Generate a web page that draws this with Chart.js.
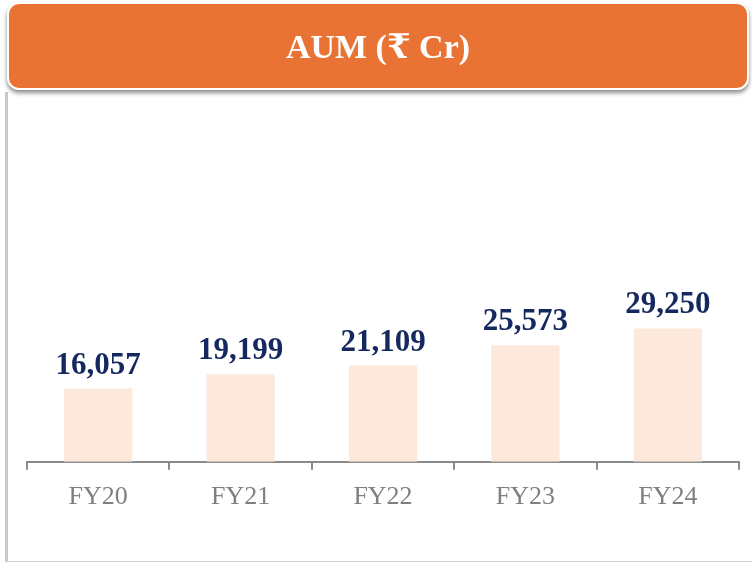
<!DOCTYPE html>
<html>
<head>
<meta charset="utf-8">
<script src="https://cdn.jsdelivr.net/npm/chart.js@4.4.1/dist/chart.umd.min.js"></script>
<style>
  html, body { margin: 0; padding: 0; background: #ffffff; }
  body { width: 752px; height: 563px; position: relative; overflow: hidden; }
  #panel {
    position: absolute; left: 5px; top: 92px; width: 760px; height: 469px;
    border-left: 3px solid #c9c9c9; border-bottom: 1px solid #cfcfcf;
    box-sizing: content-box;
  }
  #header {
    position: absolute; left: 7px; top: 2px; width: 742px; height: 88px;
    box-sizing: border-box;
    background: #e97334; border: 2px solid #ffffff; border-radius: 12px;
    box-shadow: 0 3px 4px rgba(0,0,0,0.45);
    color: #ffffff; text-align: center;
    font-family: "Liberation Serif", "DejaVu Serif", serif; font-weight: bold; font-size: 34px;
    line-height: 86px; z-index: 2;
  }
  #wrap { position: absolute; left: 0; top: 0; width: 752px; height: 563px; z-index: 1; }
</style>
</head>
<body>
<div id="panel"></div>
<div id="header">AUM (₹ Cr)</div>
<div id="wrap"><canvas id="c" width="752" height="563"></canvas></div>
<script>
const categories = ["FY20", "FY21", "FY22", "FY23", "FY24"];
const aumValues = [16057, 19199, 21109, 25573, 29250];
const valueLabels = ["16,057", "19,199", "21,109", "25,573", "29,250"];

const labelPlugin = {
  id: 'valueLabels',
  afterDatasetsDraw(chart) {
    const ctx = chart.ctx;
    const meta = chart.getDatasetMeta(0);
    ctx.save();
    ctx.font = 'bold 31px "Liberation Serif", "DejaVu Serif", serif';
    ctx.fillStyle = '#15285f';
    ctx.textAlign = 'center';
    ctx.textBaseline = 'alphabetic';
    meta.data.forEach((bar, i) => {
      ctx.fillText(valueLabels[i], bar.x, bar.y - 15);
    });
    ctx.restore();
  }
};

new Chart(document.getElementById('c'), {
  type: 'bar',
  data: {
    labels: categories,
    datasets: [{
      data: aumValues,
      backgroundColor: '#fde9dc',
      borderWidth: 0,
      barPercentage: 0.48,
      categoryPercentage: 1.0
    }]
  },
  options: {
    responsive: false,
    animation: false,
    events: [],
    layout: { padding: { left: 27, right: 13, top: 97, bottom: 38 } },
    plugins: { legend: { display: false }, title: { display: false }, tooltip: { enabled: false } },
    scales: {
      x: {
        offset: true,
        grid: { display: true, drawOnChartArea: false, drawTicks: true, tickLength: 8, color: '#8a8a8a', lineWidth: 2, offset: true },
        border: { display: true, color: '#8a8a8a', width: 2 },
        ticks: {
          color: '#808080', padding: 12,
          font: { family: '"Liberation Serif", "DejaVu Serif", serif', size: 26 }
        }
      },
      y: { display: false, min: 0, max: 80000 }
    }
  },
  plugins: [labelPlugin]
});
</script>
</body>
</html>
